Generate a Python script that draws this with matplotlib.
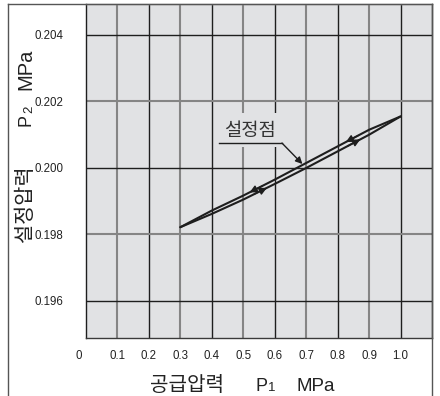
import numpy as np
import matplotlib
matplotlib.use("Agg")
import matplotlib.pyplot as plt
from matplotlib.lines import Line2D
from matplotlib.transforms import ScaledTranslation

plt.rcParams['font.family'] = ['Liberation Sans', 'Noto Sans CJK KR', 'DejaVu Sans']

# Supply pressure P1 (MPa) vs. set pressure P2 (MPa)
rise_p1 = [0.3, 0.4, 0.5, 0.6, 0.7, 0.8, 0.9, 1.0]
rise_p2 = [0.19822, 0.19862, 0.19905, 0.19952, 0.20000, 0.20050, 0.20100, 0.20155]
fall_p1 = [1.0, 0.9, 0.8, 0.7, 0.6, 0.5, 0.4, 0.3]
fall_p2 = [0.20155, 0.20115, 0.20065, 0.20015, 0.19965, 0.19917, 0.19872, 0.19822]

rise_arrows = [0.575, 0.872]
fall_arrows = [0.52, 0.826]

x_ticks = [0.0, 0.1, 0.2, 0.3, 0.4, 0.5, 0.6, 0.7, 0.8, 0.9, 1.0]
x_tick_labels = ['0', '0.1', '0.2', '0.3', '0.4', '0.5', '0.6', '0.7', '0.8', '0.9', '1.0']
y_ticks = [0.196, 0.198, 0.200, 0.202, 0.204]
y_tick_labels = ['0.196', '0.198', '0.200', '0.202', '0.204']

setpoint_label = '설정점'
setpoint_tip = (0.688, 0.20012)
setpoint_knee = (0.623, 0.20075)
setpoint_line_start = 0.423
setpoint_text_xy = (0.521, 0.20114)

W, H = 440, 396
BG = '#e1e2e4'
DARK = '#1e1e1e'
GRAY = '#858585'

fig = plt.figure(figsize=(W / 100, H / 100), dpi=100)
fig.patch.set_facecolor('white')


def fx(px):
    return px / W


def fy(py):
    return 1 - py / H


ax = fig.add_axes([fx(86), fy(338), (432 - 86) / W, (338 - 4) / H])
ax.set_facecolor(BG)
ax.set_xlim(0, 1.1)
ax.set_ylim(0.194887, 0.204932)

# grid: alternating dark / gray lines
for i, xv in enumerate(x_ticks[1:], start=1):
    dark = (i % 2 == 0)
    ax.axvline(xv, color=DARK if dark else GRAY, lw=1.0 if dark else 1.5, zorder=1)
for i, yv in enumerate(y_ticks):
    dark = (i % 2 == 0)
    ax.axhline(yv, color=DARK if dark else GRAY, lw=1.0 if dark else 1.5, zorder=1)

ax.set_xticks(x_ticks)
ax.set_xticklabels(x_tick_labels)
ax.set_yticks(y_ticks)
ax.set_yticklabels(y_tick_labels)
ax.tick_params(axis='x', length=0, pad=8.6, labelsize=8.3, labelcolor='#222222')
ax.tick_params(axis='y', length=0, pad=16.5, labelsize=8.3, labelcolor='#222222')
zero_lab = ax.get_xticklabels()[0]
zero_lab.set_transform(zero_lab.get_transform() + ScaledTranslation(-7 / 100, 0, fig.dpi_scale_trans))

for side, col in [('left', DARK), ('right', DARK), ('top', '#9a9a9a'), ('bottom', '#3a3a3a')]:
    ax.spines[side].set_color(col)
    ax.spines[side].set_linewidth(1.0)

# hysteresis curves
ax.plot(rise_p1, rise_p2, color=DARK, lw=1.5, zorder=3, solid_capstyle='round')
ax.plot(fall_p1, fall_p2, color=DARK, lw=1.5, zorder=3, solid_capstyle='round')

fall_x_inc = fall_p1[::-1]
fall_y_inc = fall_p2[::-1]


def curve_arrow(xs, ys, tip, direction):
    back = tip - direction * 0.04
    ax.annotate('', xy=(tip, np.interp(tip, xs, ys)),
                xytext=(back, np.interp(back, xs, ys)),
                arrowprops=dict(arrowstyle='-|>', color=DARK, lw=1.0,
                                mutation_scale=11, shrinkA=0, shrinkB=0),
                zorder=4)


for t in rise_arrows:
    curve_arrow(rise_p1, rise_p2, t, 1)
for t in fall_arrows:
    curve_arrow(fall_x_inc, fall_y_inc, t, -1)

# set point callout
ax.text(setpoint_text_xy[0], setpoint_text_xy[1], setpoint_label, ha='center', va='center',
        fontsize=13.5, color='#333333', family=['Noto Sans CJK KR'], zorder=5,
        bbox=dict(boxstyle='square,pad=0.35', facecolor=BG, edgecolor='none'))
ax.plot([setpoint_line_start, setpoint_knee[0]], [setpoint_knee[1], setpoint_knee[1]],
        color=DARK, lw=1.0, zorder=6)
ax.annotate('', xy=setpoint_tip, xytext=setpoint_knee,
            arrowprops=dict(arrowstyle='-|>', color=DARK, lw=1.0, mutation_scale=10,
                            shrinkA=0, shrinkB=0), zorder=6)

# axis titles
TXT = '#222222'
fig.text(fx(150), fy(391), '공급압력', fontsize=14.5, ha='left', va='baseline', color=TXT,
         family=['Noto Sans CJK KR'])
fig.text(fx(255), fy(391), 'P', fontsize=13, ha='left', va='baseline', color=TXT)
fig.text(fx(268), fy(391), '1', fontsize=9.5, ha='left', va='baseline', color=TXT)
fig.text(fx(296), fy(391), 'MPa', fontsize=13.5, ha='left', va='baseline', color=TXT)

fig.text(fx(25.5), fy(204), '설정압력', fontsize=15, rotation=90, ha='center', va='center',
         color=TXT, family=['Noto Sans CJK KR'])
fig.text(fx(26), fy(120), 'P', fontsize=13, rotation=90, ha='center', va='center', color=TXT)
fig.text(fx(29), fy(109), '2', fontsize=9.5, rotation=90, ha='center', va='center', color=TXT)
fig.text(fx(25.5), fy(69), 'MPa', fontsize=14.5, rotation=90, ha='center', va='center', color=TXT)

# outer frame
for xs, ys in [([8, 8], [4, 396]), ([8, 432], [4, 4]), ([432, 432], [4, 396])]:
    fig.add_artist(Line2D([fx(v) for v in xs], [fy(v) for v in ys], color='#555555', lw=1.0))

fig.savefig('out.png', dpi=100)
